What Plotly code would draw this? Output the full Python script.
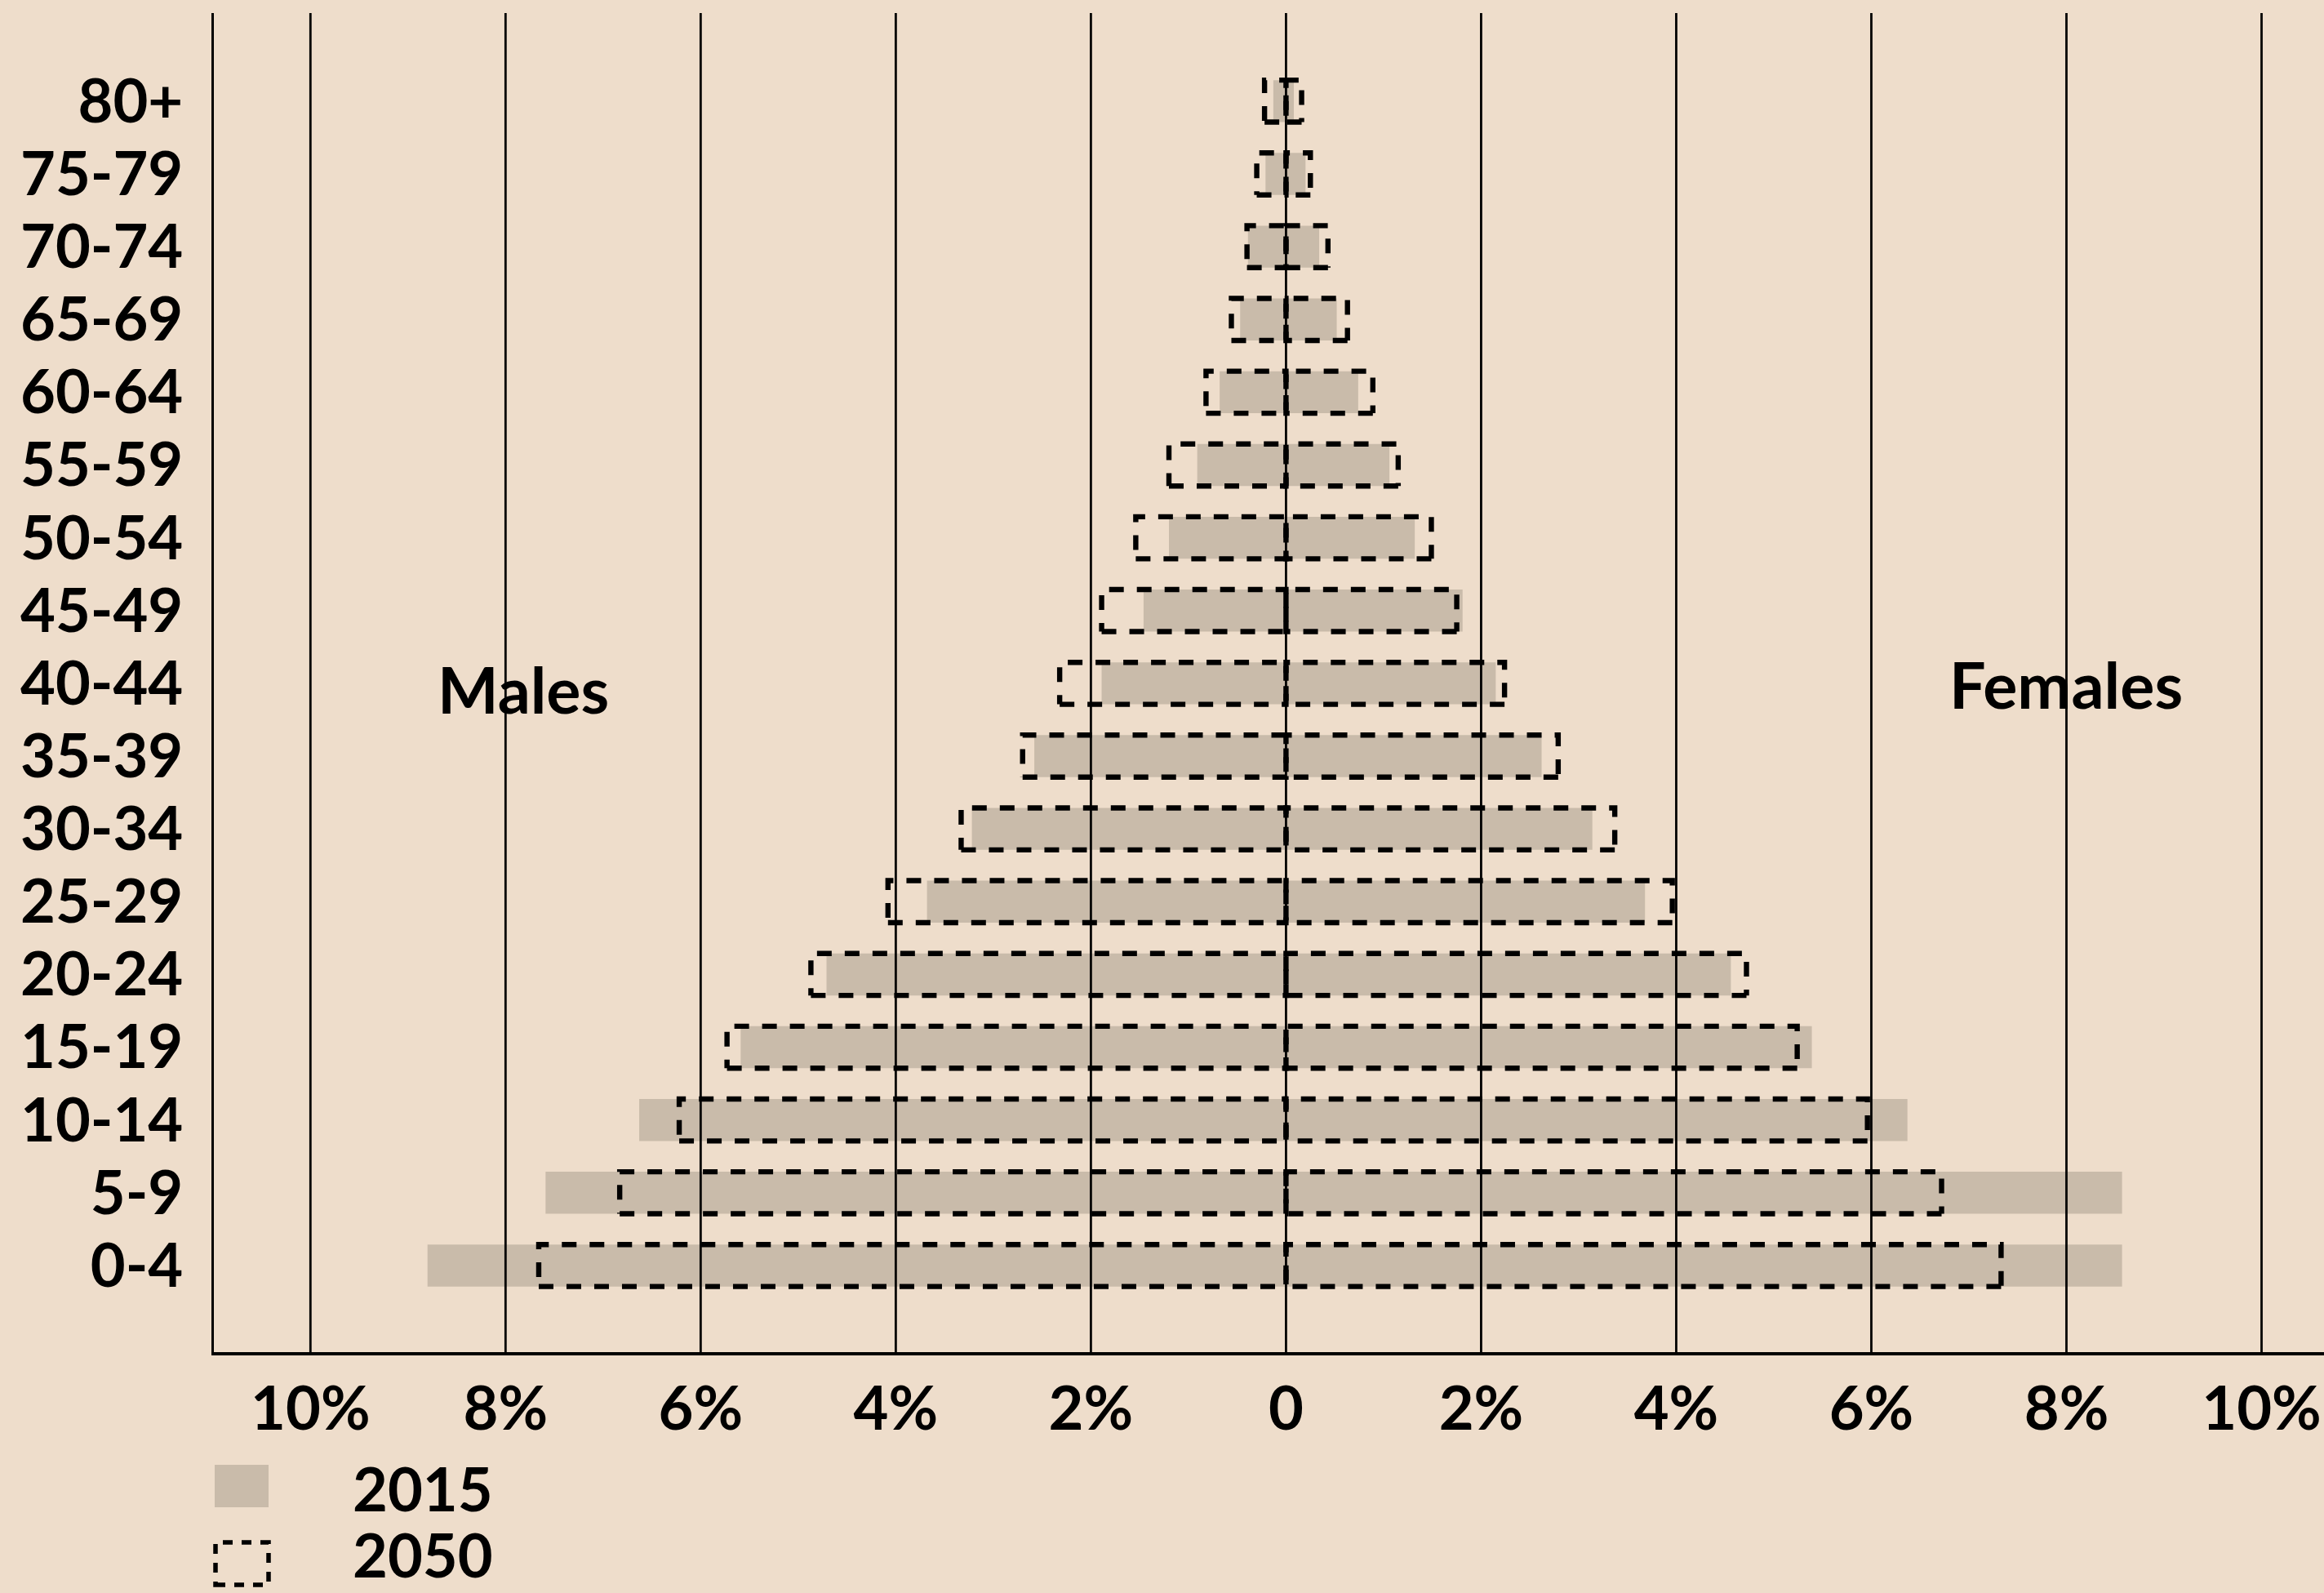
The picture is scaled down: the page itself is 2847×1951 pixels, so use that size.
import plotly.graph_objects as go

# ---------------- data ----------------
age_groups = ["0-4", "5-9", "10-14", "15-19", "20-24", "25-29", "30-34", "35-39",
              "40-44", "45-49", "50-54", "55-59", "60-64", "65-69", "70-74", "75-79", "80+"]
males_2015 = [8.80, 7.59, 6.63, 5.59, 4.71, 3.68, 3.22, 2.58, 1.89, 1.46, 1.20, 0.91, 0.68, 0.47, 0.39, 0.21, 0.13]
females_2015 = [8.57, 8.57, 6.37, 5.39, 4.56, 3.68, 3.14, 2.62, 2.15, 1.81, 1.32, 1.06, 0.74, 0.52, 0.34, 0.20, 0.08]
males_2050 = [7.66, 6.83, 6.22, 5.73, 4.87, 4.08, 3.33, 2.70, 2.32, 1.89, 1.54, 1.20, 0.82, 0.56, 0.40, 0.30, 0.22]
females_2050 = [7.33, 6.72, 5.96, 5.24, 4.72, 3.96, 3.37, 2.79, 2.24, 1.75, 1.49, 1.15, 0.89, 0.63, 0.43, 0.25, 0.16]
tick_values = [-10, -8, -6, -4, -2, 0, 2, 4, 6, 8, 10]
tick_labels = ["10%", "8%", "6%", "4%", "2%", "0", "2%", "4%", "6%", "8%", "10%"]
series_names = ["2015", "2050"]
side_labels = ["Males", "Females"]

# ---------------- style ----------------
W, H = 2847, 1951
L, R, T, B = 262, 0, 16, 295
BG = "#EEDDCB"
GRAY = "#C9BBAA"
FONT = "Lato"
BAR_W = 0.577
HALF = BAR_W / 2
DASH = "18px,16px"

idx = list(range(len(age_groups)))

fig = go.Figure()

# 2015 bars (solid gray)
fig.add_trace(go.Bar(y=idx, x=[-v for v in males_2015], orientation="h", width=BAR_W,
                     marker=dict(color=GRAY, line=dict(width=0)), name=series_names[0]))
fig.add_trace(go.Bar(y=idx, x=females_2015, orientation="h", width=BAR_W,
                     marker=dict(color=GRAY, line=dict(width=0)), name=series_names[0],
                     showlegend=False))


# 2050 bars (dashed outline) built from the data as rectangles on the same axes
def outline(values, sign):
    xs, ys = [], []
    for i, v in zip(idx, values):
        x_end = sign * v
        xs += [x_end, 0, 0, x_end, x_end, None]
        ys += [i - HALF, i - HALF, i + HALF, i + HALF, i - HALF, None]
    return xs, ys


for vals, sgn in [(males_2050, -1), (females_2050, 1)]:
    xs, ys = outline(vals, sgn)
    fig.add_trace(go.Scatter(x=xs, y=ys, mode="lines", name=series_names[1],
                             line=dict(color="black", width=6.4, dash=DASH),
                             showlegend=False, hoverinfo="skip"))

# vertical gridlines above the bars
shapes = []
for v in tick_values:
    shapes.append(dict(type="line", xref="x", yref="paper", x0=v, x1=v, y0=0, y1=1,
                       line=dict(color="black", width=2.8), layer="above"))


def pxx(px):
    return (px - L) / (W - L - R)


def pxy(py):
    return (H - B - py) / (H - T - B)


# custom legend symbols
shapes.append(dict(type="rect", xref="paper", yref="paper",
                   x0=pxx(263), x1=pxx(329), y0=pxy(1846), y1=pxy(1794),
                   fillcolor=GRAY, line=dict(width=0), layer="above"))
shapes.append(dict(type="rect", xref="paper", yref="paper",
                   x0=pxx(264), x1=pxx(329), y0=pxy(1941), y1=pxy(1889),
                   fillcolor="rgba(0,0,0,0)", line=dict(color="black", width=5.5, dash="12px,11px"),
                   layer="above"))

txt_font = dict(family=FONT, size=74, color="black", weight="bold")
side_font = dict(family=FONT, size=79, color="black", weight="bold")
annotations = [
    dict(text=series_names[0], xref="paper", yref="paper", x=pxx(430), y=pxy(1822),
         xanchor="left", yanchor="middle", showarrow=False, font=txt_font),
    dict(text=series_names[1], xref="paper", yref="paper", x=pxx(430), y=pxy(1904),
         xanchor="left", yanchor="middle", showarrow=False, font=txt_font),
    dict(text=side_labels[0], xref="x", yref="y", x=-7.82, y=7.93,
         xanchor="center", yanchor="middle", showarrow=False, font=side_font),
    dict(text=side_labels[1], xref="x", yref="y", x=8.0, y=7.99,
         xanchor="center", yanchor="middle", showarrow=False, font=side_font),
]

fig.update_layout(
    width=W, height=H,
    margin=dict(l=L, r=R, t=T, b=B, pad=0),
    paper_bgcolor=BG, plot_bgcolor=BG,
    barmode="overlay", showlegend=False,
    shapes=shapes, annotations=annotations,
    xaxis=dict(range=[-10.99, 10.64], tickmode="array", tickvals=tick_values, ticktext=tick_labels,
               showgrid=False, zeroline=False, showline=True, linecolor="black", linewidth=3.5,
               ticks="", tickfont=dict(family=FONT, size=74, color="black", weight="bold"),
               ticklabelstandoff=2, fixedrange=True),
    yaxis=dict(range=[-1.19, 17.21], tickmode="array", tickvals=idx, ticktext=age_groups,
               showgrid=False, zeroline=False, showline=True, linecolor="black", linewidth=2.8,
               ticks="", tickfont=dict(family=FONT, size=74, color="black", weight="bold"),
               ticklabelstandoff=20, fixedrange=True),
)

post = ("document.body.style.margin='0';document.body.style.padding='0';"
        "document.body.style.overflow='hidden';"
        "document.documentElement.style.background='" + BG + "';"
        "document.body.style.background='" + BG + "';")

fig.write_html("out.html", config={"displayModeBar": False}, post_script=post)
